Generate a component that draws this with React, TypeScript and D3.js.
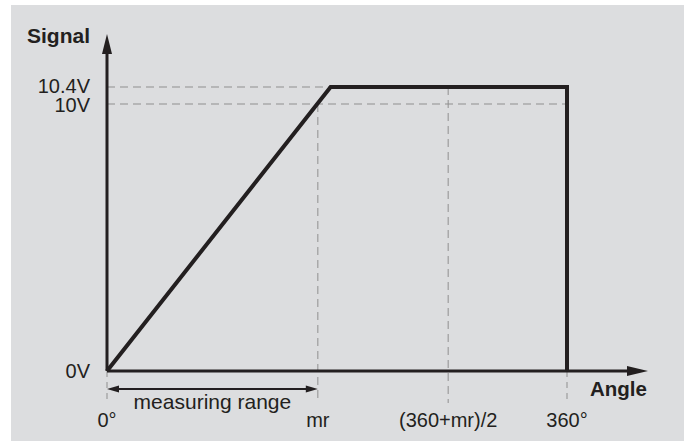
import { line, scaleLinear } from "d3";

// angle positions (degrees)
const angleTicks = [0, 165, 267, 360];
const angleLabels = ["0°", "mr", "(360+mr)/2", "360°"];
const signalTicks = [0, 10, 10.4];
const signalLabels = ["0V", "10V", "10.4V"];
const signalLabelShift = [7, 8, 6];

// signal curve
const curveAngles = [0, 175, 360, 360];
const curveSignals = [0, 10.4, 10.4, 0];

const measStart = 0;
const measEnd = 165;

const W = 689;
const H = 441;
const INK = "#231f20";
const DASH = "#8f8f8f";
const FONT = "'Liberation Sans', Arial, Helvetica, sans-serif";

const App = () => {
  const x = scaleLinear().domain([0, 360]).range([107, 567]);
  // the diagram stretches the top band, so use a piecewise scale
  const y = scaleLinear().domain([0, 10, 10.4]).range([371, 104, 87]);

  const pts: [number, number][] = curveAngles.map((a, i) => [a, curveSignals[i]]);
  const path = line<[number, number]>()
    .x((d) => x(d[0]))
    .y((d) => y(d[1]))(pts);

  const x0 = x(0);
  const y0 = y(0);
  const tickBottom = 403;
  const arrowY = 389;

  return (
    <svg
      width={W}
      height={H}
      style={{ position: "absolute", left: 0, top: 0 }}
      fontFamily={FONT}
    >
      <rect x={11} y={5} width={673} height={436} fill="#dcdddf" />

      {/* horizontal guides */}
      <line x1={x0} x2={x(curveAngles[1])} y1={y(10.4)} y2={y(10.4)} stroke={DASH} strokeWidth={1} strokeDasharray="8,5" />
      <line x1={x0} x2={x(360)} y1={y(10)} y2={y(10)} stroke={DASH} strokeWidth={1} strokeDasharray="8,5" />

      {/* vertical guides */}
      <line x1={x(angleTicks[1])} x2={x(angleTicks[1])} y1={y(10)} y2={tickBottom} stroke={DASH} strokeWidth={1} strokeDasharray="8,5" />
      <line x1={x(angleTicks[2])} x2={x(angleTicks[2])} y1={y(10.4)} y2={tickBottom} stroke={DASH} strokeWidth={1} strokeDasharray="8,5" />
      <line x1={x(0)} x2={x(0)} y1={y0} y2={tickBottom} stroke={DASH} strokeWidth={1} strokeDasharray="6,5" />
      <line x1={x(360)} x2={x(360)} y1={y0} y2={tickBottom} stroke={DASH} strokeWidth={1} strokeDasharray="6,5" />

      {/* axes */}
      <line x1={x0} x2={x0} y1={y0} y2={50} stroke={INK} strokeWidth={3} />
      <path d={`M${x0},34 L${x0 - 5},54 L${x0 + 5},54 Z`} fill={INK} />
      <line x1={x0} x2={630} y1={y0} y2={y0} stroke={INK} strokeWidth={3} />
      <path d={`M648,${y0} L627,${y0 - 5} L627,${y0 + 5} Z`} fill={INK} />

      {/* signal curve */}
      <path d={path ?? ""} fill="none" stroke={INK} strokeWidth={4} strokeLinejoin="miter" />

      {/* measuring range arrow */}
      <line x1={x(measStart) + 6} x2={x(measEnd) - 6} y1={arrowY} y2={arrowY} stroke={INK} strokeWidth={2} />
      <path d={`M${x(measStart)},${arrowY} L${x(measStart) + 12},${arrowY - 3.5} L${x(measStart) + 12},${arrowY + 3.5} Z`} fill={INK} />
      <path d={`M${x(measEnd)},${arrowY} L${x(measEnd) - 12},${arrowY - 3.5} L${x(measEnd) - 12},${arrowY + 3.5} Z`} fill={INK} />
      <text x={(x(measStart) + x(measEnd)) / 2} y={409} textAnchor="middle" fontSize={21} fill={INK}>
        measuring range
      </text>

      {/* y tick labels */}
      {signalTicks.map((s, i) => (
        <text key={signalLabels[i]} x={90} y={y(s) + signalLabelShift[i]} textAnchor="end" fontSize={20} fill={INK}>
          {signalLabels[i]}
        </text>
      ))}

      {/* x tick labels */}
      {angleTicks.map((a, i) => (
        <text key={angleLabels[i]} x={x(a)} y={427} textAnchor="middle" fontSize={20} fill={INK}>
          {angleLabels[i]}
        </text>
      ))}

      <text x={90} y={43} textAnchor="end" fontSize={21} fontWeight="bold" fill={INK}>
        Signal
      </text>
      <text x={590} y={396} fontSize={20.5} fontWeight="bold" fill={INK}>
        Angle
      </text>
    </svg>
  );
};

export default App;
